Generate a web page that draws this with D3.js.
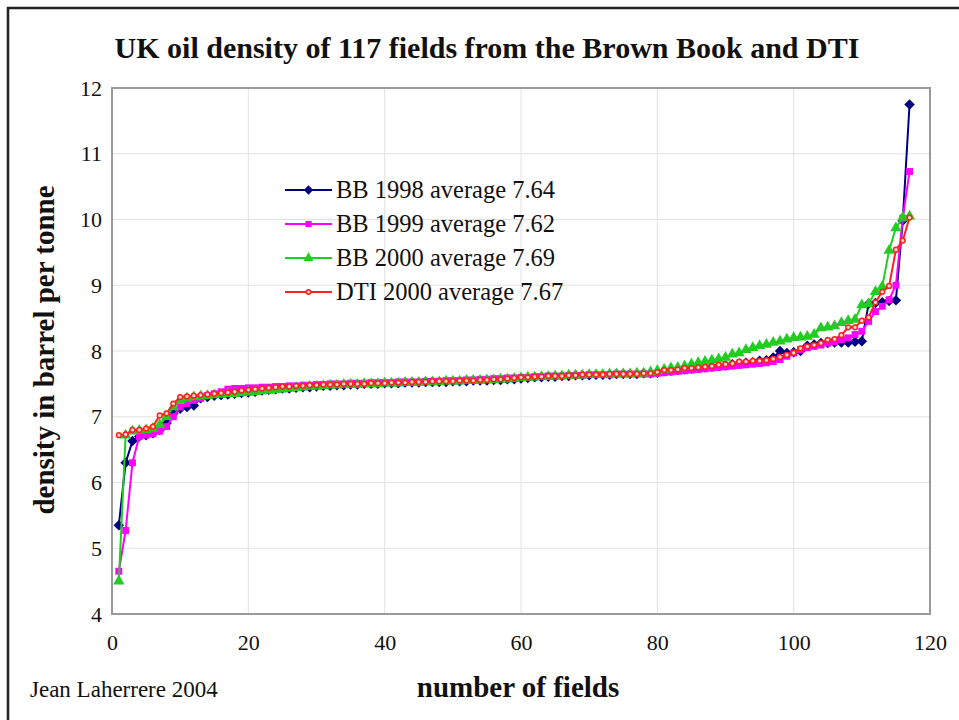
<!DOCTYPE html>
<html>
<head>
<meta charset="utf-8">
<script src="https://cdn.jsdelivr.net/npm/d3@7"></script>
<style>
  body { margin: 0; background: #fff; }
  svg text { font-family: 'Liberation Serif', 'DejaVu Serif', serif; fill: #111; }
</style>
</head>
<body>
<div id="chart"></div>
<script>
// Field densities (barrel per tonne), each series sorted ascending, fields 1..117.
const bb1998 = [
  5.35, 6.30, 6.63, 6.70, 6.72, 6.75, 6.80, 6.90, 7.05, 7.12,
  7.15, 7.17, 7.28, 7.30, 7.32, 7.33, 7.34, 7.35, 7.36, 7.37,
  7.38, 7.40, 7.41, 7.42, 7.43, 7.43, 7.44, 7.45, 7.45, 7.46,
  7.47, 7.47, 7.48, 7.48, 7.49, 7.49, 7.50, 7.50, 7.50, 7.51,
  7.51, 7.51, 7.52, 7.52, 7.52, 7.53, 7.53, 7.53, 7.53, 7.54,
  7.54, 7.54, 7.55, 7.55, 7.55, 7.56, 7.56, 7.57, 7.57, 7.58,
  7.59, 7.60, 7.60, 7.61, 7.61, 7.62, 7.62, 7.63, 7.63, 7.63,
  7.64, 7.64, 7.64, 7.65, 7.65, 7.65, 7.65, 7.66, 7.66, 7.67,
  7.69, 7.70, 7.71, 7.72, 7.73, 7.74, 7.75, 7.76, 7.77, 7.78,
  7.80, 7.81, 7.82, 7.83, 7.85, 7.86, 7.90, 8.00, 7.97, 7.98,
  8.00, 8.08, 8.10, 8.12, 8.12, 8.13, 8.13, 8.13, 8.14, 8.15,
  8.72, 8.73, 8.74, 8.76, 8.77, 9.98, 11.75
];
const bb1999 = [
  4.65, 5.27, 6.30, 6.70, 6.72, 6.74, 6.78, 6.85, 7.00, 7.15,
  7.20, 7.25, 7.28, 7.32, 7.35, 7.38, 7.42, 7.43, 7.43, 7.44,
  7.44, 7.45, 7.45, 7.46, 7.46, 7.47, 7.47, 7.48, 7.48, 7.49,
  7.49, 7.50, 7.50, 7.50, 7.51, 7.51, 7.51, 7.52, 7.52, 7.52,
  7.52, 7.53, 7.53, 7.53, 7.53, 7.54, 7.54, 7.54, 7.55, 7.55,
  7.55, 7.56, 7.56, 7.57, 7.57, 7.58, 7.58, 7.59, 7.59, 7.60,
  7.60, 7.61, 7.61, 7.62, 7.62, 7.62, 7.63, 7.63, 7.63, 7.64,
  7.64, 7.64, 7.64, 7.65, 7.65, 7.65, 7.65, 7.65, 7.65, 7.66,
  7.67, 7.68, 7.69, 7.70, 7.71, 7.72, 7.73, 7.74, 7.75, 7.76,
  7.77, 7.78, 7.79, 7.80, 7.81, 7.82, 7.84, 7.87, 7.92, 7.97,
  8.02, 8.05, 8.07, 8.09, 8.12, 8.14, 8.17, 8.20, 8.25, 8.30,
  8.45, 8.60, 8.68, 8.78, 9.00, 10.02, 10.73
];
const bb2000 = [
  4.50, 6.72, 6.78, 6.79, 6.80, 6.82, 6.88, 7.00, 7.15, 7.25,
  7.28, 7.30, 7.31, 7.32, 7.33, 7.34, 7.35, 7.35, 7.36, 7.37,
  7.38, 7.39, 7.40, 7.41, 7.42, 7.43, 7.44, 7.45, 7.46, 7.46,
  7.47, 7.48, 7.48, 7.49, 7.49, 7.49, 7.50, 7.50, 7.50, 7.51,
  7.51, 7.51, 7.52, 7.52, 7.52, 7.53, 7.53, 7.53, 7.54, 7.54,
  7.54, 7.55, 7.55, 7.55, 7.56, 7.56, 7.57, 7.57, 7.58, 7.59,
  7.60, 7.60, 7.61, 7.61, 7.62, 7.62, 7.63, 7.63, 7.63, 7.64,
  7.64, 7.64, 7.65, 7.65, 7.65, 7.65, 7.66, 7.66, 7.68, 7.70,
  7.72, 7.74, 7.75, 7.77, 7.80, 7.82, 7.84, 7.86, 7.88, 7.90,
  7.95, 7.97, 8.02, 8.05, 8.08, 8.10, 8.13, 8.15, 8.18, 8.20,
  8.21, 8.22, 8.25, 8.35, 8.36, 8.38, 8.43, 8.46, 8.48, 8.70,
  8.72, 8.90, 8.98, 9.53, 9.87, 10.03, 10.05
];
const dti2000 = [
  6.72, 6.73, 6.80, 6.80, 6.82, 6.85, 7.02, 7.05, 7.20, 7.30,
  7.31, 7.32, 7.33, 7.34, 7.35, 7.36, 7.37, 7.38, 7.40, 7.41,
  7.42, 7.43, 7.44, 7.45, 7.46, 7.46, 7.47, 7.47, 7.48, 7.48,
  7.49, 7.49, 7.49, 7.50, 7.50, 7.50, 7.50, 7.51, 7.51, 7.51,
  7.52, 7.52, 7.52, 7.53, 7.53, 7.53, 7.54, 7.54, 7.54, 7.54,
  7.55, 7.55, 7.55, 7.56, 7.56, 7.57, 7.57, 7.58, 7.59, 7.60,
  7.60, 7.61, 7.61, 7.62, 7.62, 7.62, 7.63, 7.63, 7.64, 7.64,
  7.64, 7.64, 7.65, 7.65, 7.65, 7.65, 7.65, 7.66, 7.66, 7.68,
  7.71, 7.71, 7.72, 7.74, 7.74, 7.75, 7.76, 7.77, 7.79, 7.80,
  7.81, 7.84, 7.84, 7.85, 7.85, 7.86, 7.88, 7.91, 7.94, 7.97,
  8.04, 8.07, 8.09, 8.12, 8.17, 8.18, 8.24, 8.36, 8.36, 8.46,
  8.51, 8.74, 8.90, 8.99, 9.54, 9.68, 10.03
];

const seriesNames = [
  'BB 1998 average 7.64',
  'BB 1999 average 7.62',
  'BB 2000 average 7.69',
  'DTI 2000 average 7.67',
];
const xTicks = [0, 20, 40, 60, 80, 100, 120];
const yTicks = [4, 5, 6, 7, 8, 9, 10, 11, 12];

const series = [
  { name: seriesNames[0], values: bb1998, color: '#000080', symbol: d3.symbolDiamond2, size: 70 },
  { name: seriesNames[1], values: bb1999, color: '#ff00ff', symbol: d3.symbolSquare, size: 48 },
  { name: seriesNames[2], values: bb2000, color: '#22cc22', symbol: d3.symbolTriangle, size: 55 },
  { name: seriesNames[3], values: dti2000, color: '#ff2020', symbol: d3.symbolCircle, size: 18 },
];

const width = 959;
const height = 720;
const margin = { top: 88, right: 29, bottom: 106, left: 112 };
const plotW = width - margin.left - margin.right;
const plotH = height - margin.top - margin.bottom;

const svg = d3.select('#chart').append('svg')
  .attr('width', width)
  .attr('height', height);

// outer frame, runs off the right and bottom of the picture
svg.append('rect')
  .attr('x', 8).attr('y', 8)
  .attr('width', 1000).attr('height', 1000)
  .attr('fill', 'none')
  .attr('stroke', '#222')
  .attr('stroke-width', 2.5);

svg.append('text')
  .attr('x', 487).attr('y', 58)
  .attr('text-anchor', 'middle')
  .style('font-size', '30px')
  .style('font-weight', 'bold')
  .text('UK oil density of 117 fields from the Brown Book and DTI');

const g = svg.append('g')
  .attr('transform', `translate(${margin.left},${margin.top})`);

const x = d3.scaleLinear().domain([0, 120]).range([0, plotW]);
const y = d3.scaleLinear().domain([4, 12]).range([plotH, 0]);

// grid
g.append('g').selectAll('line')
  .data(yTicks)
  .join('line')
  .attr('x1', 0).attr('x2', plotW)
  .attr('y1', (d) => y(d)).attr('y2', (d) => y(d))
  .attr('stroke', '#e2e2e2');
g.append('g').selectAll('line')
  .data(xTicks)
  .join('line')
  .attr('y1', 0).attr('y2', plotH)
  .attr('x1', (d) => x(d)).attr('x2', (d) => x(d))
  .attr('stroke', '#e2e2e2');

// plot border
g.append('rect')
  .attr('width', plotW).attr('height', plotH)
  .attr('fill', 'none')
  .attr('stroke', '#9a9a9a')
  .attr('stroke-width', 2);

// axes, labels only
const xAxis = d3.axisBottom(x).tickValues(xTicks).tickSize(0).tickPadding(20);
const yAxis = d3.axisLeft(y).tickValues(yTicks).tickSize(0).tickPadding(10);
g.append('g')
  .attr('transform', `translate(0,${plotH})`)
  .call(xAxis)
  .call((a) => a.select('.domain').remove())
  .selectAll('text')
  .style('font-size', '22px')
  .style('font-family', "'Liberation Serif', serif");
g.append('g')
  .call(yAxis)
  .call((a) => a.select('.domain').remove())
  .selectAll('text')
  .style('font-size', '22px')
  .style('font-family', "'Liberation Serif', serif");

svg.append('text')
  .attr('transform', 'translate(54,350) rotate(-90)')
  .attr('text-anchor', 'middle')
  .style('font-size', '29px')
  .style('font-weight', 'bold')
  .text('density in barrel per tonne');

svg.append('text')
  .attr('x', 518).attr('y', 697)
  .attr('text-anchor', 'middle')
  .style('font-size', '29px')
  .style('font-weight', 'bold')
  .text('number of fields');

svg.append('text')
  .attr('x', 30).attr('y', 697)
  .style('font-size', '23px')
  .text('Jean Laherrere 2004');

// lines and markers
const line = d3.line()
  .x((d, i) => x(i + 1))
  .y((d) => y(d));

series.forEach((s) => {
  const layer = g.append('g');
  layer.append('path')
    .datum(s.values)
    .attr('d', line)
    .attr('fill', 'none')
    .attr('stroke', s.color)
    .attr('stroke-width', 2);
  layer.selectAll('path.pt')
    .data(s.values)
    .join('path')
    .attr('class', 'pt')
    .attr('transform', (d, i) => `translate(${x(i + 1)},${y(d)})`)
    .attr('d', d3.symbol().type(s.symbol).size(s.size))
    .attr('fill', s.symbol === d3.symbolCircle ? '#ffd8d0' : s.color)
    .attr('stroke', s.symbol === d3.symbolCircle ? s.color : 'none')
    .attr('stroke-width', 1.5);
});

// legend
const legend = svg.append('g').attr('transform', 'translate(285,190)');
const legendRow = legend.selectAll('g')
  .data(series)
  .join('g')
  .attr('transform', (d, i) => `translate(0,${i * 34})`);
legendRow.append('line')
  .attr('x1', 0).attr('x2', 47)
  .attr('stroke', (d) => d.color)
  .attr('stroke-width', 2);
legendRow.append('path')
  .attr('transform', 'translate(23.5,0)')
  .attr('d', (d) => d3.symbol().type(d.symbol).size(d.size * 0.8)())
  .attr('fill', (d) => (d.symbol === d3.symbolCircle ? '#ffd8d0' : d.color))
  .attr('stroke', (d) => (d.symbol === d3.symbolCircle ? d.color : 'none'))
  .attr('stroke-width', 1.5);
legendRow.append('text')
  .attr('x', 51).attr('y', 8)
  .style('font-size', '24.5px')
  .text((d) => d.name);
</script>
</body>
</html>
